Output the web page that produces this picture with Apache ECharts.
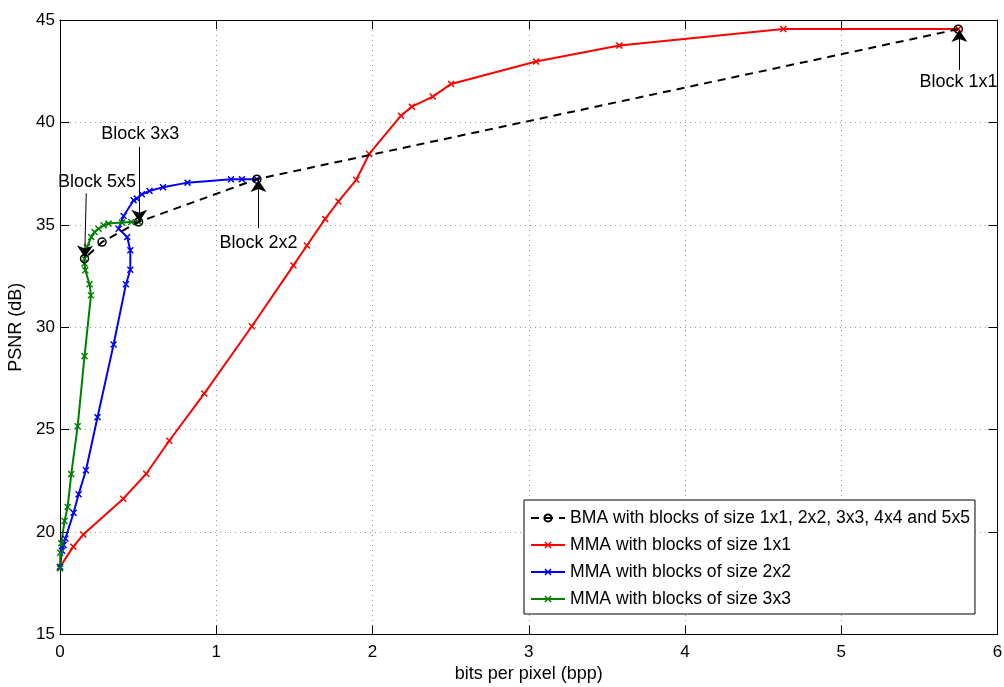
<!DOCTYPE html>
<html><head><meta charset="utf-8">
<script src="https://cdn.jsdelivr.net/npm/echarts@6/dist/echarts.min.js"></script>
<style>html,body{margin:0;padding:0;background:#fff}#c{width:1004px;height:687px}</style>
</head><body><div id="c"></div>
<script>
// BMA (block sizes 1x1, 2x2, 3x3, 4x4, 5x5)
const bmaX = [5.749, 1.26, 0.503, 0.269, 0.157];
const bmaY = [44.55, 37.23, 35.14, 34.16, 33.35];
// MMA 1x1
const red1X = [0, 0.085, 0.149, 0.405, 0.552, 0.699, 0.923, 1.228, 1.494, 1.58, 1.697, 1.782, 1.896, 1.979, 2.182, 2.252, 2.386, 2.503, 3.047, 3.58, 4.629, 5.749];
const red1Y = [18.3, 19.29, 19.88, 21.63, 22.85, 24.46, 26.76, 30.05, 33.02, 33.99, 35.29, 36.14, 37.2, 38.46, 40.33, 40.77, 41.26, 41.88, 42.97, 43.75, 44.56, 44.56];
// MMA 2x2
const blue2X = [0.0, 0.013, 0.023, 0.034, 0.087, 0.119, 0.166, 0.24, 0.343, 0.422, 0.45, 0.45, 0.43, 0.375, 0.407, 0.471, 0.492, 0.524, 0.573, 0.659, 0.816, 1.094, 1.164, 1.26];
const blue2Y = [18.3, 19.09, 19.37, 19.69, 20.94, 21.85, 23.02, 25.61, 29.16, 32.10, 32.81, 33.76, 34.4, 34.81, 35.43, 36.2, 36.28, 36.49, 36.65, 36.84, 37.06, 37.22, 37.23, 37.23];
// MMA 3x3
const green3X = [0, 0.002, 0.008, 0.029, 0.049, 0.072, 0.113, 0.157, 0.198, 0.189, 0.162, 0.157, 0.157, 0.173, 0.2, 0.221, 0.247, 0.279, 0.311, 0.397, 0.456, 0.503];
const green3Y = [18.23, 18.99, 19.45, 20.54, 21.23, 22.83, 25.17, 28.59, 31.56, 32.1, 32.78, 33.11, 33.35, 33.92, 34.4, 34.65, 34.81, 34.98, 35.06, 35.11, 35.14, 35.14];
// annotations
const annotLabels = ['Block 1x1', 'Block 2x2', 'Block 3x3', 'Block 5x5'];
const annotTextX = [5.75, 1.27, 0.514, 0.237];
const annotTextY = [41.95, 34.11, 39.43, 37.07];
const arrowFromX = [5.756, 1.27, 0.507, 0.168];
const arrowFromY = [42.56, 34.84, 38.81, 36.54];
const arrowToX = [5.756, 1.27, 0.507, 0.158];
const arrowToY = [44.51, 37.19, 35.15, 33.4];

const seriesNames = ['BMA with blocks of size 1x1, 2x2, 3x3, 4x4 and 5x5', 'MMA with blocks of size 1x1', 'MMA with blocks of size 2x2', 'MMA with blocks of size 3x3'];

const FONT = 'Liberation Sans';
const xSym = 'path://M0,1.5L1.5,0L5,3.5L8.5,0L10,1.5L6.5,5L10,8.5L8.5,10L5,6.5L1.5,10L0,8.5L3.5,5Z';
const pairs = (xs, ys) => xs.map((x, i) => [x, ys[i]]);

function mma(name, xs, ys, color) {
  return {
    name, type: 'line', data: pairs(xs, ys), z: 3,
    lineStyle: { color, width: 2 },
    symbol: xSym, symbolSize: 7,
    itemStyle: { color },
    showAllSymbol: true
  };
}

const chart = echarts.init(document.getElementById('c'), null, { renderer: 'canvas' });
const axisCommon = {
  axisLine: { show: true, onZero: false, lineStyle: { color: '#000', width: 1 } },
  axisTick: { show: true, inside: true, length: 9, lineStyle: { color: '#000', width: 1 } }
};
chart.setOption({
  animation: false,
  backgroundColor: '#fff',
  grid: { left: 60, right: 6.5, top: 20, bottom: 52.5, containLabel: false, outerBoundsMode: 'none' },
  legend: {
    data: seriesNames,
    orient: 'vertical',
    left: 524, top: 500,
    padding: [9, 5, 6, 6],
    itemWidth: 34, itemHeight: 9, itemGap: 9,
    backgroundColor: '#fff', borderColor: '#000', borderWidth: 1, borderRadius: 0,
    textStyle: { fontSize: 17.6, color: '#000', fontFamily: FONT, lineHeight: 18 }
  },
  xAxis: [
    Object.assign({
      type: 'value', min: 0, max: 6, interval: 1, position: 'bottom',
      name: 'bits per pixel (bpp)', nameLocation: 'middle', nameGap: 27,
      nameTextStyle: { fontSize: 18, color: '#000', fontFamily: FONT },
      axisLabel: { fontSize: 17, color: '#000', fontFamily: FONT, margin: 9 },
      splitLine: { show: true, lineStyle: { color: '#999', type: [1, 4], width: 1 } }
    }, axisCommon),
    Object.assign({
      type: 'value', min: 0, max: 6, interval: 1, position: 'top',
      axisLabel: { show: false }, splitLine: { show: false }
    }, axisCommon)
  ],
  yAxis: [
    Object.assign({
      type: 'value', min: 15, max: 45, interval: 5, position: 'left',
      name: 'PSNR (dB)', nameLocation: 'middle', nameGap: 27,
      nameTextStyle: { fontSize: 18, color: '#000', fontFamily: FONT },
      axisLabel: { fontSize: 17, color: '#000', fontFamily: FONT, margin: 5 },
      splitLine: { show: true, lineStyle: { color: '#999', type: [1, 4], width: 1 } }
    }, axisCommon),
    Object.assign({
      type: 'value', min: 15, max: 45, interval: 5, position: 'right',
      axisLabel: { show: false }, splitLine: { show: false }
    }, axisCommon)
  ],
  series: [
    {
      name: seriesNames[0], type: 'line', data: pairs(bmaX, bmaY), z: 5,
      lineStyle: { color: '#000', width: 2, type: [8, 6] },
      symbol: 'circle', symbolSize: 8,
      itemStyle: { color: 'transparent', borderColor: '#000', borderWidth: 1.5 }
    },
    mma(seriesNames[1], red1X, red1Y, '#ff0000'),
    mma(seriesNames[2], blue2X, blue2Y, '#0000ff'),
    mma(seriesNames[3], green3X, green3Y, '#008000'),
    {
      name: 'annotations', type: 'scatter', z: 6, silent: true,
      symbolSize: 0,
      itemStyle: { opacity: 1, color: '#000' },
      data: annotLabels.map((t, i) => ({ name: t, value: [annotTextX[i], annotTextY[i]] })),
      label: { show: true, position: 'inside', formatter: p => p.name, fontSize: 18, color: '#000', opacity: 1, fontFamily: FONT, textBorderWidth: 0, textBorderColor: 'transparent' },
      markLine: {
        silent: true, animation: false,
        symbol: ['none', 'arrow'], symbolSize: 12,
        lineStyle: { color: '#000', width: 1, type: 'solid', opacity: 1 },
        itemStyle: { color: '#000' },
        label: { show: false },
        data: annotLabels.map((t, i) => [
          { coord: [arrowFromX[i], arrowFromY[i]] },
          { coord: [arrowToX[i], arrowToY[i]] }
        ])
      }
    }
  ]
});
</script></body></html>
